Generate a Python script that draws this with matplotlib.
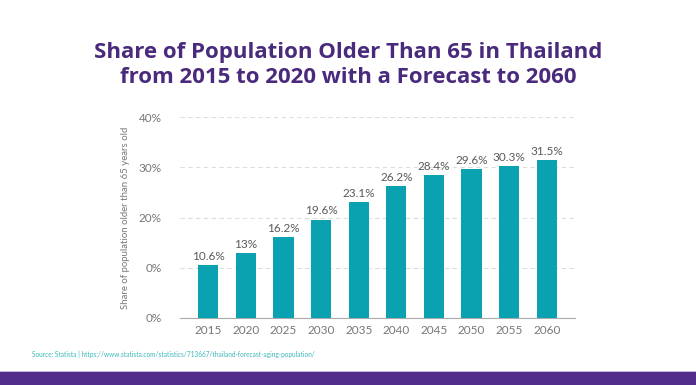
import matplotlib
matplotlib.use("Agg")
import matplotlib.pyplot as plt
from matplotlib.patches import Rectangle

years = ["2015", "2020", "2025", "2030", "2035", "2040", "2045", "2050", "2055", "2060"]
shares = [10.6, 13.0, 16.2, 19.6, 23.1, 26.2, 28.4, 29.6, 30.3, 31.5]
value_labels = ["10.6%", "13%", "16.2%", "19.6%", "23.1%", "26.2%", "28.4%", "29.6%", "30.3%", "31.5%"]
ytick_values = [0, 10, 20, 30, 40]
ytick_labels = ["0%", "0%", "20%", "30%", "40%"]

title = "Share of Population Older Than 65 in Thailand\nfrom 2015 to 2020 with a Forecast to 2060"
ylabel = "Share of population older than 65 years old"
source = "Source: Statista | https://www.statista.com/statistics/713667/thailand-forecast-aging-population/"

plt.rcParams['font.family'] = ['Lato', 'DejaVu Sans']

fig = plt.figure(figsize=(6.96, 3.85), dpi=100)
fig.patch.set_facecolor("white")

ax = fig.add_axes([180/696, 1-318/385, 395/696, 201/385])
x = list(range(len(years)))
ax.bar(x, shares, width=0.54, color="#0aa2b0", zorder=3)
for xi, v, lab in zip(x, shares, value_labels):
    ax.text(xi, v + 0.6, lab, ha="center", va="bottom", fontsize=8.5, color="#5a5a5a", zorder=4)

ax.set_xlim(-0.75, 9.75)
ax.set_ylim(0, 40)
ax.set_yticks(ytick_values)
ax.set_yticklabels(ytick_labels)
ax.set_xticks(x)
ax.set_xticklabels(years)
ax.tick_params(axis="both", length=0, labelsize=8.5, labelcolor="#777777")
ax.tick_params(axis="y", pad=13)
ax.tick_params(axis="x", pad=5)
for s in ["top", "right", "left"]:
    ax.spines[s].set_visible(False)
ax.spines["bottom"].set_color("#aaaaaa")
ax.spines["bottom"].set_linewidth(0.8)
ax.yaxis.grid(True, linestyle=(0, (4, 3)), color="#dddddd", linewidth=0.8, zorder=0)
ax.set_axisbelow(True)
ax.set_ylabel(ylabel, fontsize=6.9, color="#777777", labelpad=6)

fig.text(0.5, 1-65/385, title, ha="center", va="center", fontsize=16,
         fontweight="bold", color="#4a2a7c", linespacing=1.25, family=["Open Sans", "DejaVu Sans"])

fig.text(32/696, 1-354/385, source, ha="left", va="center", fontsize=4.7, color="#3db6bb")

fig.patches.append(Rectangle((0, 0), 1, 13/385, transform=fig.transFigure,
                             facecolor="#522d8c", edgecolor="none", zorder=0))
fig.patches.append(Rectangle((0, 13/385), 1, 1.5/385, transform=fig.transFigure,
                             facecolor="#c8b6e2", edgecolor="none", zorder=0))

fig.savefig("out.png", dpi=100, facecolor="white")
